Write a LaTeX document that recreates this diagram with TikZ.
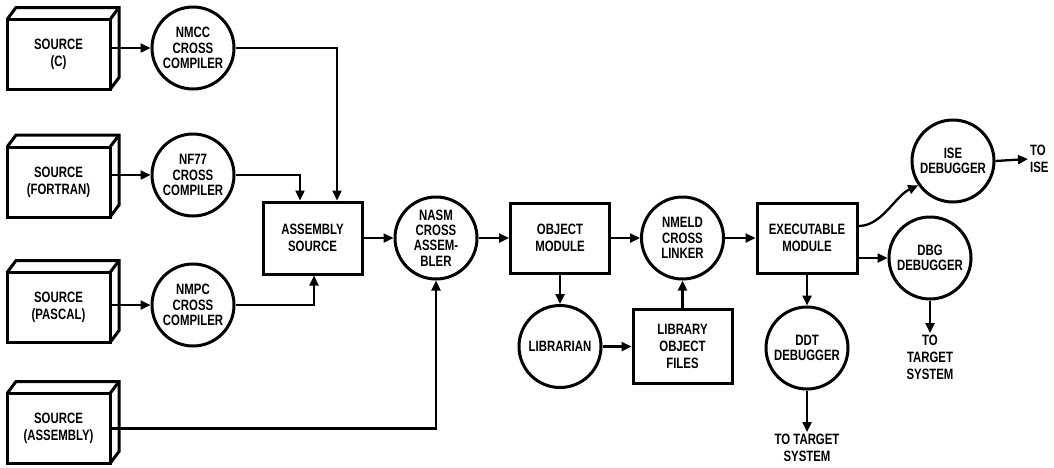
\documentclass[tikz,border=0pt]{standalone}
\usepackage{fontspec}
\setmainfont{Liberation Sans}[FakeStretch=0.76]
\usetikzlibrary{arrows.meta,calc}
\begin{document}
\begin{tikzpicture}[x=1pt,y=-1pt,
  every node/.style={font=\bfseries\fontsize{15}{17}\selectfont, align=center},
  box/.style={draw, line width=3pt, minimum width=99pt, minimum height=71pt, inner sep=0pt},
  src/.style={box, minimum width=103pt, minimum height=70pt},
  proc/.style={draw, circle, line width=3pt, minimum size=82pt, inner sep=0pt, font=\bfseries\fontsize{15}{15.2}\selectfont},
  cube/.style={line width=3pt, line join=miter},
  conn/.style={line width=2.3pt, -{Triangle[length=10pt,width=9pt]}},
  lbl/.style={inner sep=2pt, font=\bfseries\fontsize{15}{17}\selectfont}
]
\useasboundingbox (0,0) rectangle (1054,467);

% sources
\node[src] (sC) at (58.5,54.5) {SOURCE\\(C)};
\node[src] (sF) at (58.5,182) {SOURCE\\(FORTRAN)};
\node[src] (sP) at (58.5,307.5) {SOURCE\\(PASCAL)};
\node[src] (sA) at (58.5,428.5) {SOURCE\\(ASSEMBLY)};
\foreach \n in {sC,sF,sP,sA}{
  \draw[cube] ($(\n.north west)+(1.5,1.5)$) -- ++(9,-12)
     -- ($(\n.north east)+(7.5,-10.5)$) -- ($(\n.south east)+(7.5,-13.5)$)
     -- ($(\n.south east)+(-1.5,-1.5)$);
  \draw[cube] ($(\n.north east)+(-1.5,1.5)$) -- ++(9,-12);
}

% compilers
\node[proc] (nmcc) at (193,48) {NMCC\\CROSS\\COMPILER};
\node[proc] (nf77) at (193,175) {NF77\\CROSS\\COMPILER};
\node[proc] (nmpc) at (193,305) {NMPC\\CROSS\\COMPILER};

% main row
\node[box, minimum height=72pt] (asm) at (312.5,238) {ASSEMBLY\\SOURCE};
\node[proc] (nasm) at (436,238) {NASM\\CROSS\\ASSEM-\\BLER};
\node[box, minimum height=70pt] (obj) at (560,238) {OBJECT\\MODULE};
\node[proc] (nmeld) at (682.5,238) {NMELD\\CROSS\\LINKER};
\node[box, minimum width=100pt, minimum height=70pt] (exec) at (807,238) {EXECUTABLE\\MODULE};

% lower row
\node[proc] (lib) at (560,346.5) {LIBRARIAN};
\node[box, minimum height=74pt] (libf) at (682.5,346.5) {LIBRARY\\OBJECT\\FILES};
\node[proc] (ddt) at (807,348) {DDT\\DEBUGGER};

% debuggers
\node[proc] (ise) at (953,161) {ISE\\DEBUGGER};
\node[proc] (dbg) at (930,258) {DBG\\DEBUGGER};

% labels
\node[lbl, anchor=west, align=left] (toise) at (1028,159) {TO\\ISE};
\node[lbl, anchor=north] (dbgT) at (930,333) {TO\\TARGET\\SYSTEM};
\node[lbl, anchor=north] (ddtT) at (807,432) {TO TARGET\\SYSTEM};

% connectors
\draw[conn] (sC.east |- nmcc.west) -- (nmcc.west);
\draw[conn] (sF.east |- nf77.west) -- (nf77.west);
\draw[conn] (sP.east |- nmpc.west) -- (nmpc.west);
\draw[conn] (nmcc.east) -| ([xshift=24.5pt]asm.north);
\draw[conn] (nf77.east) -| ([xshift=-12.5pt]asm.north);
\draw[conn] (nmpc.east) -| ([xshift=1.5pt]asm.south);
\draw[conn] (sA.east) -| (nasm.south);
\draw[conn] (asm.east) -- (nasm.west);
\draw[conn] (nasm.east) -- (obj.west);
\draw[conn] (obj.east) -- (nmeld.west);
\draw[conn] (nmeld.east) -- (exec.west);
\draw[conn] (obj.south) -- (lib.north);
\draw[conn] (lib.east) -- (libf.west);
\draw[conn] (libf.north) -- (nmeld.south);
\draw[conn] (exec.south) -- (ddt.north);
\draw[conn] (exec.east |- dbg.west) -- (dbg.west);
\draw[conn] ([yshift=12pt]exec.east) .. controls (882,226) and (895,196) .. (ise.215);
\draw[conn] (ise.east) -- (toise.west);
\draw[conn] (dbg.south) -- (dbgT.north);
\draw[conn] (ddt.south) -- (ddtT.north);
\end{tikzpicture}
\end{document}
